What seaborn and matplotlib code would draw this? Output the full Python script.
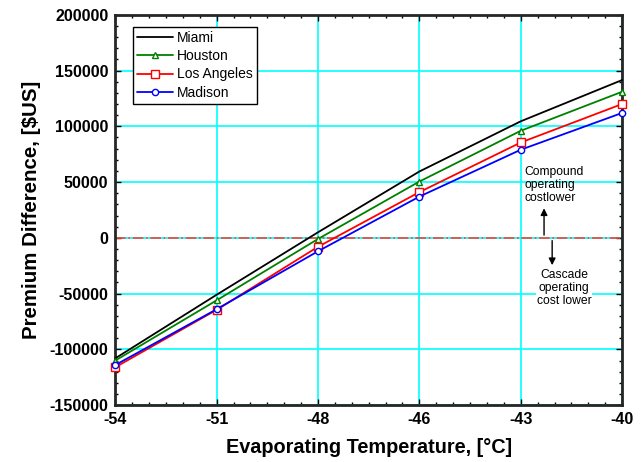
import matplotlib
matplotlib.use("Agg")
import matplotlib.pyplot as plt
from matplotlib.ticker import MultipleLocator, FixedLocator
import pandas as pd
import seaborn as sns

# Values
temps = ["-54", "-51", "-48", "-46", "-43", "-40"]
miami = [-108000, -51000, 5000, 59500, 104500, 141500]
houston = [-110000, -56000, -1000, 50500, 96000, 131000]
los_angeles = [-116000, -64500, -8000, 41000, 85500, 120000]
madison = [-114000, -64000, -12000, 37000, 79000, 112000]

series = {"Miami": miami, "Houston": houston,
          "Los Angeles": los_angeles, "Madison": madison}
colors = {"Miami": "black", "Houston": "green",
          "Los Angeles": "red", "Madison": "blue"}
markers = {"Miami": None, "Houston": "^", "Los Angeles": "s", "Madison": "o"}
msizes = {"Miami": 0, "Houston": 5, "Los Angeles": 6, "Madison": 4.5}

rows = []
for name, vals in series.items():
    for i, (t, v) in enumerate(zip(temps, vals)):
        rows.append({"city": name, "pos": i, "temp": t, "diff": v})
df = pd.DataFrame(rows)

sns.set_style("ticks")
plt.rcParams["font.family"] = ["Liberation Sans", "DejaVu Sans"]
plt.rcParams["axes.unicode_minus"] = False
plt.rcParams["text.color"] = "black"
plt.rcParams["axes.labelcolor"] = "black"
plt.rcParams["xtick.color"] = "black"
plt.rcParams["ytick.color"] = "black"

fig, ax = plt.subplots(figsize=(6.44, 4.62), dpi=100)
fig.subplots_adjust(left=0.179, right=0.966, bottom=0.123, top=0.968)

for name in series:
    sub = df[df["city"] == name]
    sns.lineplot(data=sub, x="pos", y="diff", ax=ax, color=colors[name],
                 marker=markers[name], markersize=msizes[name],
                 markerfacecolor="white", markeredgecolor=colors[name],
                 markeredgewidth=1, linewidth=1.3, label=name, clip_on=False,
                 zorder=3)

# zero line
ax.axhline(0, color="#e8483c", linestyle="-.", linewidth=1.2, zorder=2)

ax.set_xlim(0, len(temps) - 1)
ax.set_ylim(-150000, 200000)
ax.xaxis.set_major_locator(FixedLocator(range(len(temps))))
ax.set_xticklabels(temps)
ax.xaxis.set_minor_locator(MultipleLocator(1 / 6))
ax.yaxis.set_major_locator(MultipleLocator(50000))
ax.yaxis.set_minor_locator(MultipleLocator(10000))

ax.grid(True, which="major", color="cyan", linewidth=1.2, zorder=0)
ax.set_axisbelow(True)

ax.tick_params(which="both", direction="in", top=True, right=True)
ax.tick_params(which="major", length=4, width=1, pad=5)
ax.tick_params(which="minor", length=2.5, width=1)
for lab in ax.get_xticklabels() + ax.get_yticklabels():
    lab.set_fontweight("bold")
    lab.set_fontsize(11.5)
for sp in ax.spines.values():
    sp.set_linewidth(2)
    sp.set_visible(True)

ax.set_xlabel("Evaporating Temperature, [°C]", fontsize=14.3,
              fontweight="bold", labelpad=8)
ax.set_ylabel("Premium Difference, [$US]", fontsize=14.8,
              fontweight="bold", labelpad=6)

leg = ax.legend(loc="upper left", bbox_to_anchor=(0.034, 0.969), fontsize=10,
                fancybox=False, edgecolor="black", framealpha=1,
                handlelength=2.6, borderpad=0.3, labelspacing=0.3,
                handletextpad=0.3, borderaxespad=0)
leg.get_frame().set_linewidth(1)

# annotations
ax.annotate("", xy=(4.23, 29000), xytext=(4.23, 0),
            arrowprops=dict(arrowstyle="-|>", color="black", lw=1,
                            mutation_scale=10))
ax.annotate("", xy=(4.31, -27000), xytext=(4.31, 0),
            arrowprops=dict(arrowstyle="-|>", color="black", lw=1,
                            mutation_scale=10))
ax.text(4.04, 64000, "Compound\noperating\ncostlower", fontsize=8.7,
        ha="left", va="top", linespacing=1.1)
ax.text(4.43, -28000, "Cascade\noperating\ncost lower", fontsize=8.7,
        ha="center", va="top", linespacing=1.1,
        bbox=dict(facecolor="white", edgecolor="none", pad=0.5))

plt.savefig("out.png", dpi=100)
